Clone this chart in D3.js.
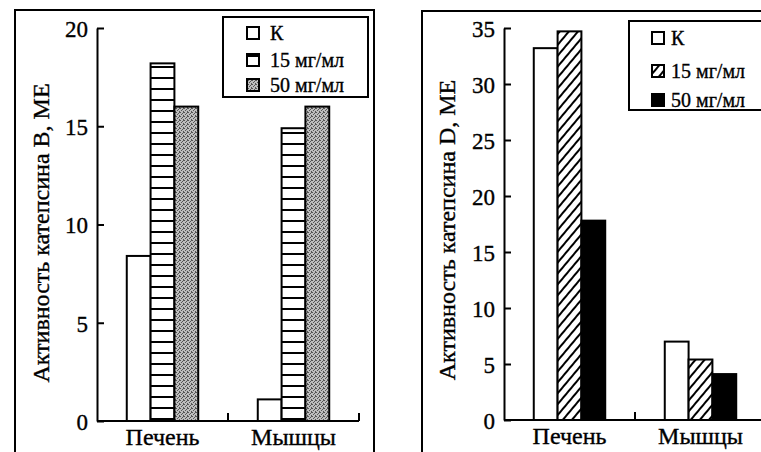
<!DOCTYPE html>
<html><head><meta charset="utf-8">
<script src="https://cdn.jsdelivr.net/npm/d3@7"></script>
<style>
html,body{margin:0;padding:0;background:#fff;}
svg{display:block;}
</style></head>
<body>
<svg id="chart" width="761" height="452" font-family="Liberation Serif"></svg>
<script>
// ---- data ----
const categories = ["Печень", "Мышцы"];
const seriesNames = ["К", "15 мг/мл", "50 мг/мл"];
// Cathepsin B activity, ME
const catB_K    = [8.4, 1.1];
const catB_15   = [18.2, 14.9];
const catB_50   = [16.0, 16.0];
// Cathepsin D activity, ME
const catD_K    = [33.2, 7.0];
const catD_15   = [34.7, 5.4];
const catD_50   = [17.8, 4.1];
const ticksB = [0, 5, 10, 15, 20];
const ticksD = [0, 5, 10, 15, 20, 25, 30, 35];
const titleB = "Активность катепсина B, МЕ";
const titleD = "Активность катепсина D, МЕ";

const FONT = "Liberation Serif";
const svg = d3.select("#chart");
const defs = svg.append("defs");

function styleText(sel, size){
  sel.attr("font-family", FONT).attr("font-size", size).attr("fill","#000")
     .attr("stroke","#000").attr("stroke-width",0.35);
}

// patterns
const pH = defs.append("pattern").attr("id","hstripe").attr("patternUnits","userSpaceOnUse")
  .attr("width",10).attr("height",11);
pH.append("rect").attr("width",10).attr("height",11).attr("fill","#fff");
pH.append("rect").attr("x",0).attr("y",0).attr("width",10).attr("height",2).attr("fill","#000");

const pG = defs.append("pattern").attr("id","stipple").attr("patternUnits","userSpaceOnUse")
  .attr("width",4).attr("height",4);
pG.append("rect").attr("width",4).attr("height",4).attr("fill","#bdbdbd");
[[0,0],[2,1],[1,2],[3,3],[3,0]].forEach(([a,b])=>pG.append("rect").attr("x",a).attr("y",b).attr("width",1).attr("height",1).attr("fill","#555"));

const pD = defs.append("pattern").attr("id","diag").attr("patternUnits","userSpaceOnUse")
  .attr("width",7).attr("height",7).attr("patternTransform","rotate(40)");
pD.append("rect").attr("width",7).attr("height",7).attr("fill","#fff");
pD.append("rect").attr("x",0).attr("y",0).attr("width",2).attr("height",7).attr("fill","#000");

function panel(opt){
  const g = svg.append("g");
  g.append("path").attr("d", opt.frame).attr("fill","none").attr("stroke","#000").attr("stroke-width",2);

  const y = d3.scaleLinear().domain([0, opt.ymax]).range([opt.y0, opt.y1]);
  const x = d3.scaleBand().domain(categories).range([opt.x0, opt.x0 + 2*opt.band]);
  const xs = d3.scaleBand().domain(seriesNames).range([0, x.bandwidth()]).paddingOuter(1.25);

  const rows = [];
  categories.forEach((c,i)=>{
    opt.vals.forEach((arr,j)=> rows.push({c, s: seriesNames[j], v: arr[i], fill: opt.fills[j]}));
  });
  g.selectAll("rect.bar").data(rows).join("rect").attr("class","bar")
    .attr("x", d => x(d.c) + xs(d.s))
    .attr("width", xs.bandwidth())
    .attr("y", d => y(d.v))
    .attr("height", d => y(0) - y(d.v))
    .attr("fill", d => d.fill)
    .attr("stroke","#000").attr("stroke-width",2);

  const ya = g.append("g").attr("transform",`translate(${opt.x0},0)`)
    .call(d3.axisLeft(y).tickValues(opt.ticks).tickSize(-7).tickSizeOuter(0).tickPadding(9));
  ya.attr("font-family", FONT).attr("font-size", 23);
  ya.select(".domain").attr("stroke-width",2);
  ya.selectAll(".tick line").attr("stroke-width",2);
  ya.selectAll(".tick text").call(styleText, 23).attr("dy","0.36em");

  g.append("line").attr("x1",opt.x0).attr("x2",opt.x0+2*opt.band).attr("y1",y(0)).attr("y2",y(0))
    .attr("stroke","#000").attr("stroke-width",2);
  categories.forEach(c=>{
    const bx = x(c) + x.bandwidth();
    g.append("line").attr("x1",bx).attr("x2",bx).attr("y1",y(0)).attr("y2",y(0)-8)
      .attr("stroke","#000").attr("stroke-width",2);
  });
  const xa = g.append("g").attr("transform",`translate(0,${y(0)})`)
    .call(d3.axisBottom(x).tickSize(0).tickPadding(7));
  xa.attr("font-family", FONT).attr("font-size", 24);
  xa.select(".domain").remove();
  xa.selectAll(".tick text").call(styleText, 24);

  g.append("text").attr("transform",`translate(${opt.tx},${opt.ty}) rotate(-90)`)
    .attr("text-anchor","middle").attr("dominant-baseline","central")
    .call(styleText, 24).text(opt.title);

  const L = opt.legend;
  g.append("rect").attr("x",L.x).attr("y",L.y).attr("width",L.w).attr("height",L.h)
    .attr("fill","#fff").attr("stroke","#000").attr("stroke-width",2);
  seriesNames.forEach((s,j)=>{
    const cy = L.rows[j];
    g.append("rect").attr("x",L.sx).attr("y",cy-L.ss/2).attr("width",L.ss).attr("height",L.ss)
      .attr("fill",opt.fills[j]).attr("stroke","#000").attr("stroke-width",2);
    g.append("text").attr("x",L.tx).attr("y",cy).attr("dominant-baseline","central")
      .call(styleText, 20).text(s);
  });
}

panel({
  frame: "M15,452 L15,10 L374,10 L374,452",
  ymax: 20, y0: 421, y1: 28, x0: 97, band: 131,
  ticks: ticksB, vals: [catB_K, catB_15, catB_50],
  fills: ["#fff","url(#hstripe)","url(#stipple)"],
  title: titleB, tx: 41, ty: 233,
  legend: {x:223, y:17, w:145, h:80, sx:247, ss:12, tx:270, rows:[33,60,85]}
});
panel({
  frame: "M422,452 L422,11 L761,11",
  ymax: 35, y0: 420, y1: 28, x0: 504, band: 131,
  ticks: ticksD, vals: [catD_K, catD_15, catD_50],
  fills: ["#fff","url(#diag)","#000"],
  title: titleD, tx: 447, ty: 230,
  legend: {x:629, y:21, w:140, h:89, sx:652, ss:12, tx:671, rows:[38,71,100]}
});
</script>
</body></html>
